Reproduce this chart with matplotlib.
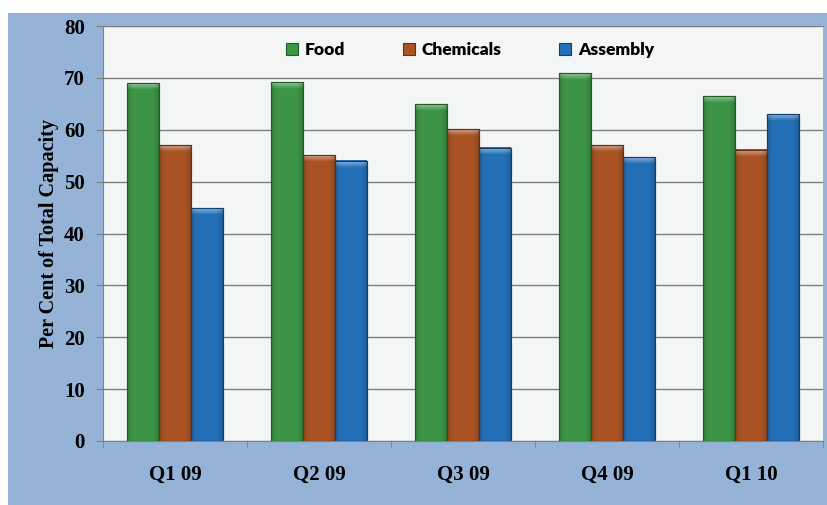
import matplotlib.pyplot as plt
import numpy as np
from matplotlib.patches import Rectangle
from matplotlib.colors import to_rgb

quarters = ['Q1 09', 'Q2 09', 'Q3 09', 'Q4 09', 'Q1 10']
food = [69.0, 69.2, 64.9, 70.9, 66.5]
chemicals = [57.0, 55.1, 60.1, 57.0, 56.1]
assembly = [44.9, 54.0, 56.5, 54.7, 63.0]

series = [('Food', food, '#3C9646', '#1F5E27'),
          ('Chemicals', chemicals, '#AA5325', '#6A2F10'),
          ('Assembly', assembly, '#2470B8', '#123F72')]

bg = '#95B3D7'

fig = plt.figure(figsize=(8.28, 5.05), dpi=100, facecolor='white')
# blue backdrop of the chart
fig.patches.append(Rectangle((8 / 828, 0), 1 - 8 / 828, 492 / 505,
                             transform=fig.transFigure, facecolor=bg,
                             edgecolor='none', zorder=-10))

ax = fig.add_axes([103 / 828, 64 / 505, 720 / 828, 415 / 505])
ax.set_facecolor('#F4F6F6')

# horizontal shading profile for the bevelled bars
prof = np.linspace(-1, 1, 40)
shade = 1.0 - 0.22 * prof ** 6
# vertical fade of the light cap, top row lightest
fade = np.linspace(0.45, 0.0, 8)


def bevel(patch, col):
    x0, w, h = patch.get_x(), patch.get_width(), patch.get_height()
    rgb = np.array(to_rgb(col))
    img = np.clip(rgb[None, None, :] * shade[None, :, None], 0, 1)
    ax.imshow(img, extent=(x0, x0 + w, 0, h), aspect='auto', zorder=3,
              interpolation='bilinear')
    capimg = rgb[None, None, :] + (1 - rgb[None, None, :]) * fade[:, None, None]
    capimg = np.clip(capimg * shade[None, :, None], 0, 1)
    ax.imshow(capimg, extent=(x0, x0 + w, h - 1.3, h), aspect='auto',
              zorder=3.5, interpolation='bilinear')


x = np.arange(len(quarters))
w = 0.222
for i, (name, vals, col, edge) in enumerate(series):
    bars = ax.bar(x + (i - 1) * w, vals, w, color=col, edgecolor=edge,
                  linewidth=0.8, label=name, zorder=3)
    for b in bars:
        bevel(b, col)
        ax.add_patch(Rectangle((b.get_x(), 0), b.get_width(), b.get_height(),
                               facecolor='none', edgecolor=edge,
                               linewidth=0.8, zorder=4))

ax.set_xlim(-0.5, len(quarters) - 0.5)
ax.set_ylim(0, 80)
ax.set_yticks(range(0, 81, 10))
ax.set_xticks(x)
ax.set_xticklabels(quarters)
ax.set_xticks(np.arange(-0.5, len(quarters)), minor=True)
ax.tick_params(axis='x', which='major', length=0, pad=17)
ax.tick_params(axis='x', which='minor', length=5, color='#808080')
ax.tick_params(axis='y', length=5, color='#808080', pad=8)
ax.grid(axis='y', color='#7F7F7F', linewidth=1.0, zorder=0)

for lab in ax.get_xticklabels() + ax.get_yticklabels():
    lab.set_fontfamily('Liberation Serif')
    lab.set_fontweight('bold')
    lab.set_fontsize(15)

ax.spines['right'].set_visible(False)
ax.spines['top'].set_color('#808080')
ax.spines['left'].set_color('#808080')
ax.spines['bottom'].set_color('#808080')

ax.set_ylabel('Per Cent of Total Capacity', fontfamily='Liberation Serif',
              fontweight='bold', fontsize=14.5, labelpad=4)

leg = ax.legend(loc='center', bbox_to_anchor=(0.51, 0.942), ncol=3,
                frameon=False, handlelength=0.7, handleheight=0.7,
                handletextpad=0.4, columnspacing=3.3,
                prop={'family': 'Lato', 'weight': 'heavy', 'size': 12.5})

fig.savefig('out.png', dpi=100)
